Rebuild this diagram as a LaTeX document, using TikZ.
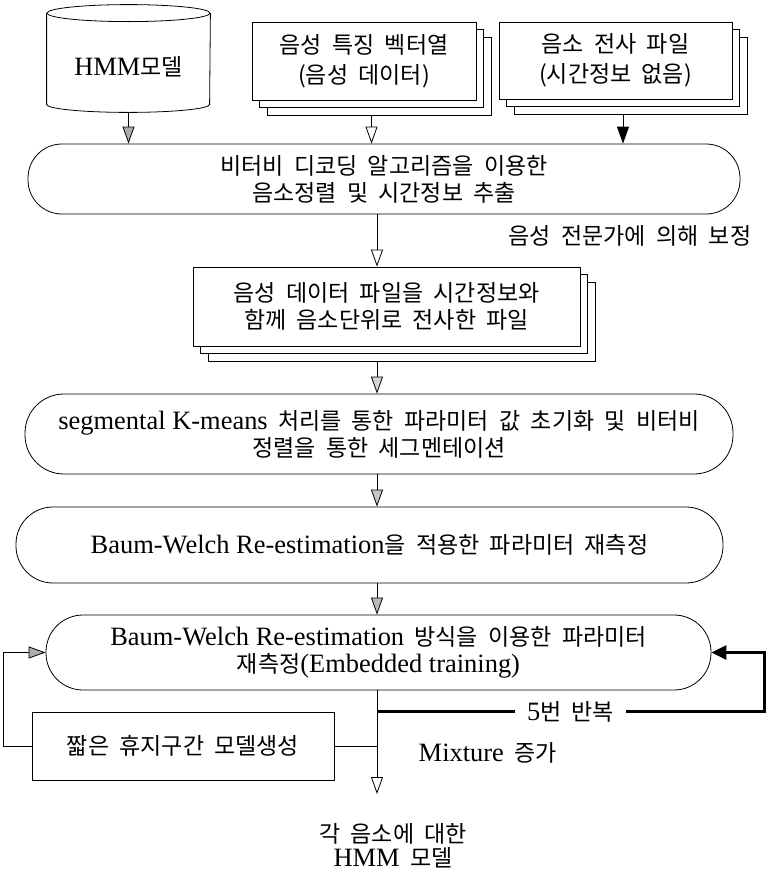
\documentclass[tikz,border=0pt]{standalone}
\usepackage{fontspec}
\setmainfont{Noto Sans CJK KR}[WordSpace=2]
\newfontfamily\enfont{Liberation Serif}[Scale=1.15]
\newcommand{\en}[1]{{\enfont #1}}
\usetikzlibrary{arrows.meta,shadows}

\tikzset{
  doc/.style={draw, fill=white, align=center, inner sep=0pt,
    double copy shadow={shadow xshift=7.5pt, shadow yshift=-7.5pt, fill=white, draw}},
  proc/.style={draw, rounded corners=#1, align=center, inner sep=0pt},
  conn/.style={-{Triangle[length=17pt, width=12pt, fill=#1]}},
  conn/.default=white,
}

\begin{document}
\begin{tikzpicture}[x=1pt, y=-1pt, line width=0.8pt, font=\fontsize{23}{27}\selectfont]
\useasboundingbox (0,0) rectangle (766,873);
\coordinate (spine) at (377,0);
\coordinate (rail) at (764,0);

\node[minimum width=163pt, minimum height=90pt, inner sep=0pt] (hmm) at (128.5,67) {\en{HMM}모델};
\draw ([yshift=8.5pt]hmm.north) ellipse[x radius=81.5pt, y radius=8.5pt];
\draw ([yshift=8.5pt]hmm.north west) -- ([yshift=8pt]hmm.south west) arc[start angle=180, end angle=360, x radius=81.5pt, y radius=8pt] -- ([yshift=8.5pt]hmm.north east);

\node[doc, minimum width=224pt, minimum height=78pt, font=\fontsize{23}{30}\selectfont] (featvec) at (364,61) {음성 특징 벡터열\\(음성 데이터)};
\node[doc, minimum width=233pt, minimum height=77pt, font=\fontsize{23}{30}\selectfont] (phontr) at (615.5,60.5) {음소 전사 파일\\(시간정보 없음)};

\node[proc=34pt, minimum width=712pt, minimum height=70pt] (viterbi) at (384,179) {비터비 디코딩 알고리즘을 이용한\\음소정렬 및 시간정보 추출};
\draw[conn=gray!65] (hmm.south) -- (hmm.south |- viterbi.north);
\draw[conn] ([shift={(7.5pt,-15pt)}]featvec.south) -- ([xshift=7.5pt]featvec.south |- viterbi.north);
\draw[conn=black] ([shift={(7.5pt,-15pt)}]phontr.south) -- ([xshift=7.5pt]phontr.south |- viterbi.north);

\node[anchor=east] (expert) at (755,236) {음성 전문가에 의해 보정};

\node[doc, minimum width=387pt, minimum height=79pt] (aligned) at (386.5,306.5) {음성 데이터 파일을 시간정보와\\함께 음소단위로 전사한 파일};
\draw[conn] (viterbi.south -| spine) -- (aligned.north -| spine);

\node[proc=39pt, minimum width=708pt, minimum height=80pt] (segkm) at (379,434) {\en{segmental K-means} 처리를 통한 파라미터 값 초기화 및 비터비\\정렬을 통한 세그멘테이션};
\draw[conn=gray!35] ([yshift=-15pt]aligned.south -| spine) -- (segkm.north -| spine);

\node[proc=37pt, minimum width=707pt, minimum height=76pt] (bwinit) at (369.5,545) {\en{Baum-Welch Re-estimation}을 적용한 파라미터 재측정};
\draw[conn=gray!45] (segkm.south -| spine) -- (bwinit.north -| spine);

\node[proc=37pt, minimum width=665pt, minimum height=75pt] (bwemb) at (378.5,652.5) {\en{Baum-Welch Re-estimation} 방식을 이용한 파라미터\\재측정\en{(Embedded training)}};
\draw[conn=gray!55] (bwinit.south -| spine) -- (bwemb.north -| spine);

\node[draw, minimum width=302pt, minimum height=68pt] (sppause) at (183,746) {짧은 휴지구간 모델생성};
\draw[conn=gray!65] (sppause.west) -- ++(-28pt,0) |- (bwemb.west);
\draw (sppause.east) -- (sppause.east -| spine);
\draw[line width=3pt, line join=miter, -{Triangle[length=15pt, width=14pt]}] (sppause.north -| spine) -- node[fill=white, inner xsep=12pt] (reps) {\en{5}번 반복} (sppause.north -| rail) |- (bwemb.east);

\node[anchor=west] (mixlbl) at (415,753) {\en{Mixture} 증가};
\node[align=center, font=\fontsize{23}{24}\selectfont] (result) at (393,846) {각 음소에 대한\\\en{HMM} 모델};
\draw[conn, shorten >=26pt] (bwemb.south -| spine) -- (result.north -| spine);
\end{tikzpicture}
\end{document}
